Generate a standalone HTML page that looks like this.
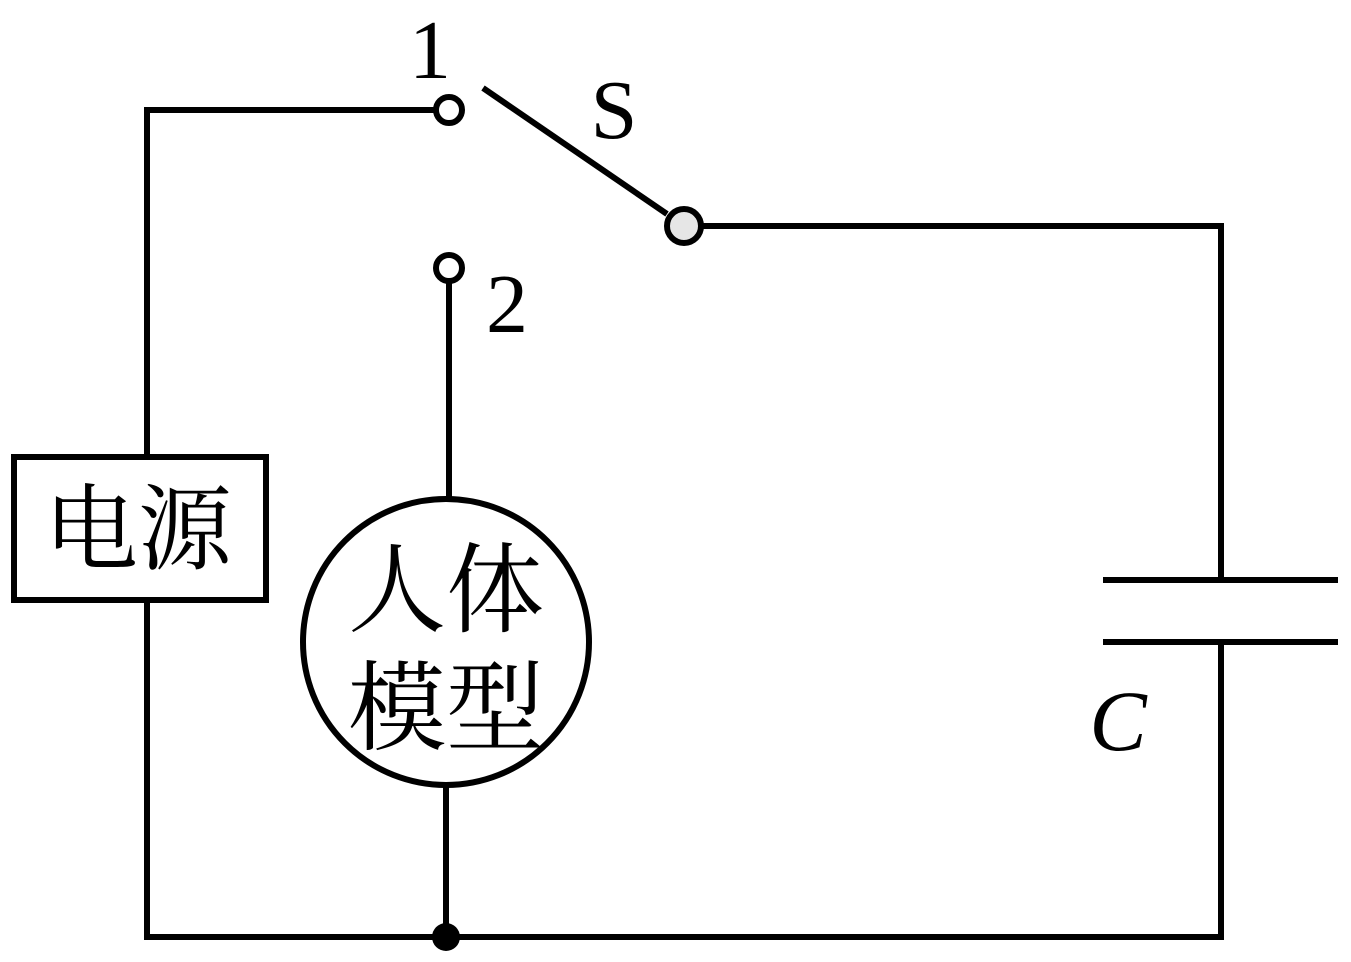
<!DOCTYPE html>
<html><head><meta charset="utf-8"><style>
html,body{margin:0;padding:0;background:#fff;}
svg{display:block;}
</style></head><body>
<svg width="1351" height="962" viewBox="0 0 1351 962" xmlns="http://www.w3.org/2000/svg">
<g stroke="#000" stroke-width="6" fill="none" stroke-linecap="butt">
<polyline points="436,110 147,110 147,457"/>
<line x1="147" y1="600" x2="147" y2="937"/>
<line x1="144" y1="937" x2="1224" y2="937"/>
<rect x="14" y="457" width="252" height="143"/>
<line x1="483" y1="88" x2="667" y2="214"/>
<polyline points="701,226 1221,226 1221,580"/>
<line x1="1103" y1="580" x2="1338" y2="580"/>
<line x1="1103" y1="642" x2="1338" y2="642"/>
<line x1="1221" y1="642" x2="1221" y2="940"/>
<line x1="449" y1="281" x2="449" y2="499"/>
<circle cx="446" cy="642" r="143"/>
<line x1="446" y1="785" x2="446" y2="937"/>
</g>
<circle cx="449" cy="110" r="13" fill="#fff" stroke="#000" stroke-width="6"/>
<circle cx="449" cy="268" r="13" fill="#fff" stroke="#000" stroke-width="6"/>
<circle cx="684" cy="226" r="17" fill="#e6e6e6" stroke="#000" stroke-width="6"/>
<circle cx="446" cy="937" r="14" fill="#000"/>
<g font-family="'Liberation Serif', serif" fill="#000">
<text x="430" y="78" font-size="84" text-anchor="middle">1</text>
<text x="614" y="138" font-size="84" text-anchor="middle">S</text>
<text x="507" y="332" font-size="84" text-anchor="middle">2</text>
<text x="1118" y="750" font-size="86" font-style="italic" text-anchor="middle">C</text>
</g>
<g font-family="'Noto Serif CJK SC','Noto Sans CJK SC',serif" fill="#000" text-anchor="middle">
<text x="138" y="562" font-size="94">电源</text>
<text x="446" y="624" font-size="98">人体</text>
<text x="446" y="742" font-size="98">模型</text>
</g>
</svg>
</body></html>
